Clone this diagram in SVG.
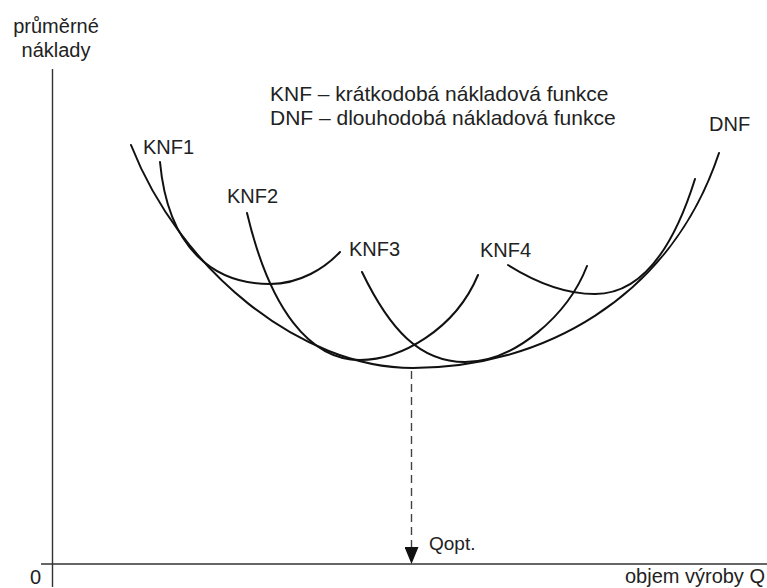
<svg xmlns="http://www.w3.org/2000/svg" width="767" height="588" viewBox="0 0 767 588">
<style>
text{font-family:"Liberation Sans",Arial,sans-serif;fill:#222}
.lbl{font-size:20px}
.leg{font-size:21px}
.axis{stroke:#333;stroke-width:1.4;fill:none}
.curve{stroke:#111;stroke-width:2;fill:none;stroke-linecap:round}
.dash{stroke:#444;stroke-width:1.4;fill:none;stroke-dasharray:8 5}
</style>
<defs>
<marker id="arrow" markerWidth="17" markerHeight="14" refX="17" refY="7" orient="auto" markerUnits="userSpaceOnUse" viewBox="0 0 17 14">
<path d="M0,0 L17,7 L0,14 Z" fill="#111"/>
</marker>
</defs>
<rect width="767" height="588" fill="#fff"/>
<g id="axes">
<line class="axis" x1="52.5" y1="69" x2="52.5" y2="587"/>
<line class="axis" x1="41" y1="564" x2="767" y2="564"/>
<text class="lbl" x="56" y="33" text-anchor="middle">průměrné</text>
<text class="lbl" x="56" y="57" text-anchor="middle">náklady</text>
<text class="lbl" x="30" y="584">0</text>
<text class="lbl" x="765" y="583" text-anchor="end">objem výroby Q</text>
</g>
<g id="legend">
<text class="leg" x="270" y="101">KNF – krátkodobá nákladová funkce</text>
<text class="leg" x="270" y="125">DNF – dlouhodobá nákladová funkce</text>
</g>
<g id="DNF">
<path class="curve" d="M131,145 C180,270 300,368 413,368 C540,368 670,300 719,153"/>
<text class="lbl" x="709" y="131">DNF</text>
</g>
<g id="KNF1">
<path class="curve" d="M160,162 C168,250 215,284 270,284 C300,284 325,268 340,252"/>
<text class="lbl" x="143" y="154">KNF1</text>
</g>
<g id="KNF2">
<path class="curve" d="M247,213 C270,310 310,360 360,360 C400,360 455,330 478,275"/>
<text class="lbl" x="227" y="203">KNF2</text>
</g>
<g id="KNF3">
<path class="curve" d="M362,272 C390,330 420,362 465,362 C515,362 568,315 587,266"/>
<text class="lbl" x="349" y="256">KNF3</text>
</g>
<g id="KNF4">
<path class="curve" d="M508,265 C540,285 570,294 595,294 C625,294 665,275 695,179"/>
<text class="lbl" x="480" y="257">KNF4</text>
</g>
<g id="connectors">
<line class="dash" x1="411.5" y1="371" x2="411.5" y2="564" marker-end="url(#arrow)"/>
<text class="lbl" x="429" y="550" style="font-size:19px">Qopt.</text>
</g>
</svg>
